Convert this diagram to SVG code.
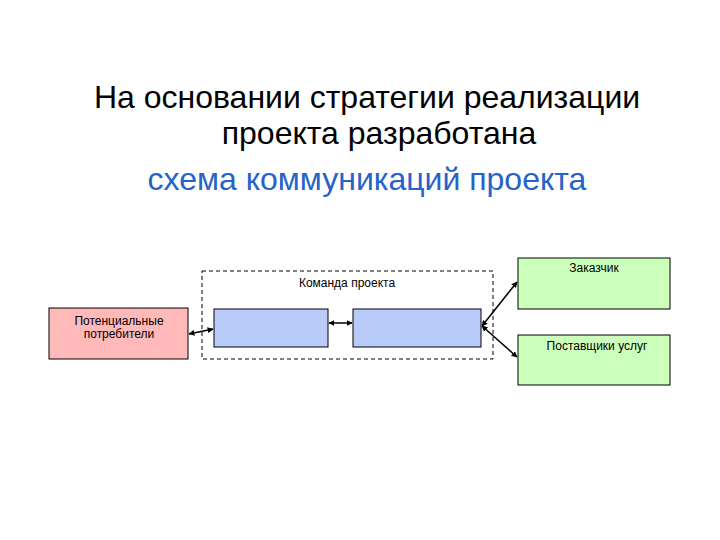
<svg xmlns="http://www.w3.org/2000/svg" width="720" height="540" viewBox="0 0 720 540">
<style>
.t{font-family:"Liberation Sans",Arial,sans-serif;fill:#000}
.title{font-size:32px;text-anchor:middle}
.s{font-size:12px;text-anchor:middle}
.box{stroke:#000;stroke-width:1}
.c{stroke:#000;stroke-width:1.5;fill:none;marker-start:url(#a);marker-end:url(#a)}
</style>
<defs>
<marker id="a" viewBox="0 0 10 10" refX="9" refY="5" markerWidth="6" markerHeight="6" orient="auto-start-reverse" markerUnits="userSpaceOnUse"><path d="M0,0L10,5L0,10z" fill="#000"/></marker>
</defs>
<rect width="720" height="540" fill="#fff"/>
<g id="title">
<text class="t title" x="367" y="108">На основании стратегии реализации</text>
<text class="t title" x="379" y="144">проекта разработана</text>
<text class="t title" x="367" y="190" style="fill:#2563C8">схема коммуникаций проекта</text>
</g>
<g id="team">
<rect x="202" y="271" width="291" height="88" fill="none" stroke="#000" stroke-dasharray="4,3"/>
<text class="t s" x="347" y="287">Команда проекта</text>
</g>
<g id="consumers">
<rect class="box" x="49" y="308" width="139" height="51" fill="#FFB9B9"/>
<text class="t s" x="119" y="325">Потенциальные</text>
<text class="t s" x="119" y="338">потребители</text>
</g>
<g id="member1"><rect class="box" x="214" y="309" width="114" height="38" fill="#B9CCF9"/></g>
<g id="member2"><rect class="box" x="353" y="309" width="128" height="38" fill="#B9CCF9"/></g>
<g id="customer">
<rect class="box" x="518" y="258" width="152" height="51" fill="#CCFFBB"/>
<text class="t s" x="594" y="272">Заказчик</text>
</g>
<g id="suppliers">
<rect class="box" x="518" y="335" width="152" height="50" fill="#CCFFBB"/>
<text class="t s" x="597" y="350">Поставщики услуг</text>
</g>
<g id="connectors">
<line class="c" x1="189" y1="334" x2="213" y2="329"/>
<line class="c" x1="329" y1="323" x2="352" y2="323"/>
<line class="c" x1="482" y1="326" x2="517" y2="282"/>
<line class="c" x1="482" y1="326" x2="517" y2="357"/>
</g>
</svg>
